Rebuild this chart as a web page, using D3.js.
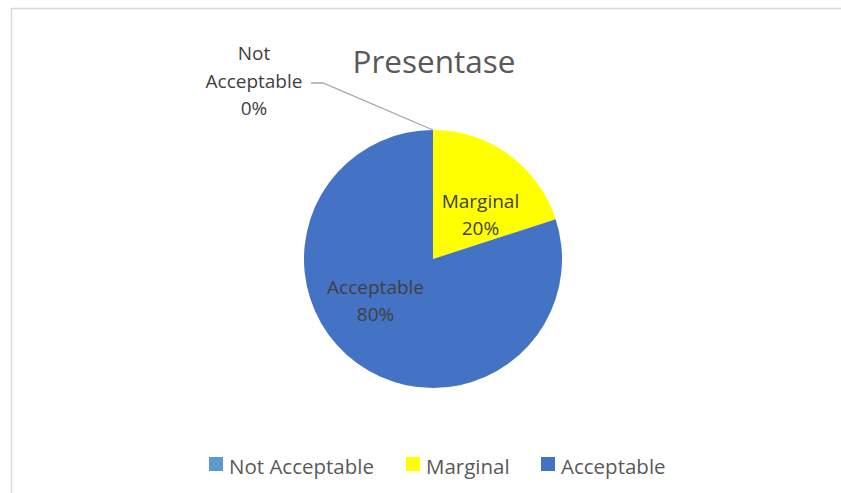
<!DOCTYPE html>
<html>
<head>
<meta charset="utf-8">
<script src="https://cdn.jsdelivr.net/npm/d3@7"></script>
<style>
body { margin: 0; background: #fff; }
svg text { font-family: "Open Sans", sans-serif; }
</style>
</head>
<body>
<svg id="chart" width="841" height="493"></svg>
<script>
var categories = ["Not Acceptable", "Marginal", "Acceptable"]
var values = [0, 20, 80]
var colors = ["#5B9BD5", "#FFFF00", "#4472C4"]

var width = 841, height = 493
var cx = 433, cy = 259, radius = 129

var svg = d3.select("#chart")

// chart frame (right and bottom edges fall outside the window)
svg.append("rect")
.attr("x", 11.5).attr("y", 8.5)
.attr("width", 900).attr("height", 600)
.attr("fill", "#fff")
.attr("stroke", "#d9d9d9")
.attr("stroke-width", 1.5)

svg.append("text")
.attr("x", cx + 1).attr("y", 73)
.attr("text-anchor", "middle")
.attr("font-size", 31.5)
.attr("fill", "#595959")
.text("Presentase")

var data = categories.map((c, i) => ({name: c, value: values[i], color: colors[i]}))
var total = d3.sum(values)

var pie = d3.pie().sort(null).value(d => d.value)
var arc = d3.arc().innerRadius(0).outerRadius(radius)
var labelArc = d3.arc().innerRadius(radius * 0.52).outerRadius(radius * 0.52)

var arcs = pie(data)

var g = svg.append("g").attr("transform", "translate(" + cx + "," + cy + ")")

g.selectAll("path")
.data(arcs)
.enter().append("path")
.attr("d", arc)
.attr("fill", d => d.data.color)

// label nudges, like Excel's best fit
var nudge = {"Marginal": [8, 3], "Acceptable": [-18, -19]}
var labelSize = 19

arcs.forEach(function(d) {
  var pct = Math.round(d.data.value / total * 100) + "%"
  if (d.data.value === 0) {
    // zero slice: label outside with leader line
    var p = d3.arc().innerRadius(radius).outerRadius(radius).centroid(d)
    g.append("polyline")
    .attr("points", [[p[0], p[1]], [-110, -176], [-122, -176]].map(q => q.join(",")).join(" "))
    .attr("fill", "none")
    .attr("stroke", "#a6a6a6")
    .attr("stroke-width", 1.3)
    var t = g.append("text")
    .attr("text-anchor", "middle")
    .attr("font-size", labelSize)
    .attr("fill", "#404040")
    ;["Not", "Acceptable", pct].forEach(function(s, i) {
      t.append("tspan").attr("x", -179).attr("y", -199 + i * 27.5).text(s)
    })
    return
  }
  var c = labelArc.centroid(d)
  var n = nudge[d.data.name] || [0, 0]
  var t = g.append("text")
  .attr("text-anchor", "middle")
  .attr("font-size", labelSize)
  .attr("fill", "#404040")
  t.append("tspan").attr("x", c[0] + n[0]).attr("y", c[1] + n[1]).text(d.data.name)
  t.append("tspan").attr("x", c[0] + n[0]).attr("y", c[1] + n[1] + 27).text(pct)
})

// legend
var legendX = [209, 406, 541]
var legend = svg.selectAll(".legend")
.data(data)
.enter().append("g")
.attr("class", "legend")
.attr("transform", (d, i) => "translate(" + legendX[i] + ",457)")

legend.append("rect")
.attr("width", 14).attr("height", 14)
.attr("fill", d => d.color)

legend.append("text")
.attr("x", 20).attr("y", 17)
.attr("font-size", 20.5)
.attr("fill", "#595959")
.text(d => d.name)
</script>
</body>
</html>
